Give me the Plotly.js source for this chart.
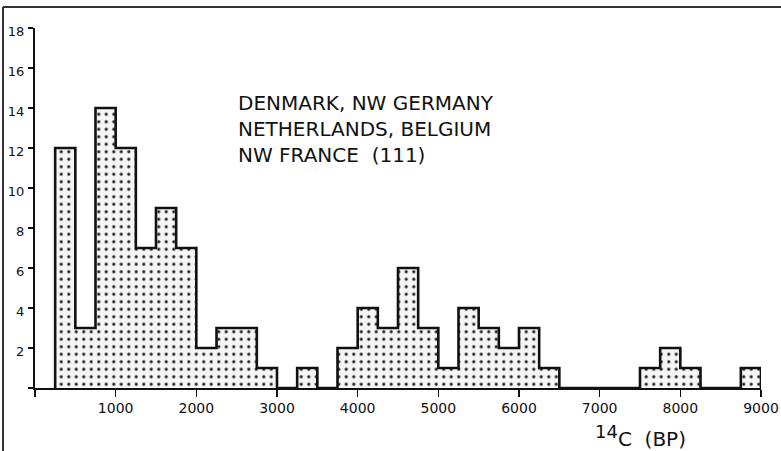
<!DOCTYPE html>
<html>
<head>
<meta charset="utf-8">
<script src="https://cdn.plot.ly/plotly-3.0.1.min.js"></script>
<style>html,body{margin:0;padding:0;background:#fff;}#chart{width:781px;height:451px;}</style>
</head>
<body>
<div id="chart"></div>
<script>
// Bin left edges (14C years BP), bin width 250
const binStarts = [250,500,750,1000,1250,1500,1750,2000,2250,2500,2750,3000,3250,3500,3750,4000,4250,4500,4750,5000,5250,5500,5750,6000,6250,6500,6750,7000,7250,7500,7750,8000,8250,8500,8750];
const counts    = [12,3,14,12,7,9,7,2,3,3,1,0,1,0,2,4,3,6,3,1,4,3,2,3,1,0,0,0,0,1,2,1,0,0,1];
const binWidth = 250;
const xTickVals = [0,1000,2000,3000,4000,5000,6000,7000,8000,9000];
const xTickText = ['','1000','2000','3000','4000','5000','6000','7000','8000','9000'];
const yTickVals = [0,2,4,6,8,10,12,14,16,18];
const yTickText = ['','2','4','6','8','10','12','14','16','18'];
const annotationText = 'DENMARK, NW GERMANY<br>NETHERLANDS, BELGIUM<br>NW FRANCE  (111)';
const axisTitle = '<sup><span style="font-size:18px">14</span></sup>C  (BP)';

const centers = binStarts.map(s => s + binWidth / 2);

// outline (step) built from the same data
const stepX = [binStarts[0]];
const stepY = [0];
binStarts.forEach((s, i) => { stepX.push(s); stepY.push(counts[i]); });
stepX.push(binStarts[binStarts.length - 1] + binWidth);
stepY.push(0);

const font = 'DejaVu Sans, sans-serif';

const traces = [
  {
    type: 'bar', x: centers, y: counts, width: binWidth,
    marker: {
      color: '#f5f5f5',
      line: {width: 0},
      pattern: {shape: '.', size: 7.5, solidity: 0.14, fgcolor: '#222', bgcolor: '#f5f5f5', fillmode: 'replace'}
    },
    hoverinfo: 'skip', showlegend: false
  },
  {
    type: 'scatter', mode: 'lines', x: stepX, y: stepY,
    line: {shape: 'hv', color: '#111', width: 2.6},
    hoverinfo: 'skip', showlegend: false
  }
];

const layout = {
  width: 781, height: 451,
  margin: {l: 35, r: 20, t: 28, b: 63},
  paper_bgcolor: '#fff', plot_bgcolor: '#fff',
  showlegend: false,
  bargap: 0,
  font: {family: font, color: '#111', size: 13},
  xaxis: {
    range: [0, 9000], showgrid: false, zeroline: false,
    showline: true, linecolor: '#111', linewidth: 1.5,
    ticks: 'outside', ticklen: 7, tickwidth: 1.5, tickcolor: '#111',
    tickvals: xTickVals, ticktext: xTickText,
    tickfont: {family: font, size: 14, color: '#111'}
  },
  yaxis: {
    range: [0, 18], showgrid: false, zeroline: false,
    showline: true, linecolor: '#111', linewidth: 2,
    ticks: 'outside', ticklen: 5, tickwidth: 1.5, tickcolor: '#111',
    tickvals: yTickVals, ticktext: yTickText,
    ticklabelshift: 3, ticklabelstandoff: 1,
    tickfont: {family: font, size: 13, color: '#111'}
  },
  annotations: [
    {
      xref: 'paper', yref: 'paper', x: (236 - 35) / 726, y: (388 - 89) / 360,
      xanchor: 'left', yanchor: 'top', align: 'left', showarrow: false,
      text: annotationText,
      font: {family: font, size: 20, color: '#111'}
    },
    {
      xref: 'paper', yref: 'paper', x: (640 - 35) / 726, y: (388 - 436) / 360,
      xanchor: 'center', yanchor: 'middle', showarrow: false,
      text: axisTitle,
      font: {family: font, size: 20, color: '#111'}
    }
  ],
  shapes: [
    {type: 'line', xref: 'paper', yref: 'paper', x0: (3 - 35) / 726, x1: (781 - 35) / 726, y0: (388 - 7) / 360, y1: (388 - 7) / 360, line: {color: '#333', width: 2}},
    {type: 'line', xref: 'paper', yref: 'paper', x0: (3 - 35) / 726, x1: (3 - 35) / 726, y0: (388 - 7) / 360, y1: (388 - 451) / 360, line: {color: '#333', width: 2}}
  ]
};

Plotly.newPlot('chart', traces, layout, {displayModeBar: false, staticPlot: true});
</script>
</body>
</html>
